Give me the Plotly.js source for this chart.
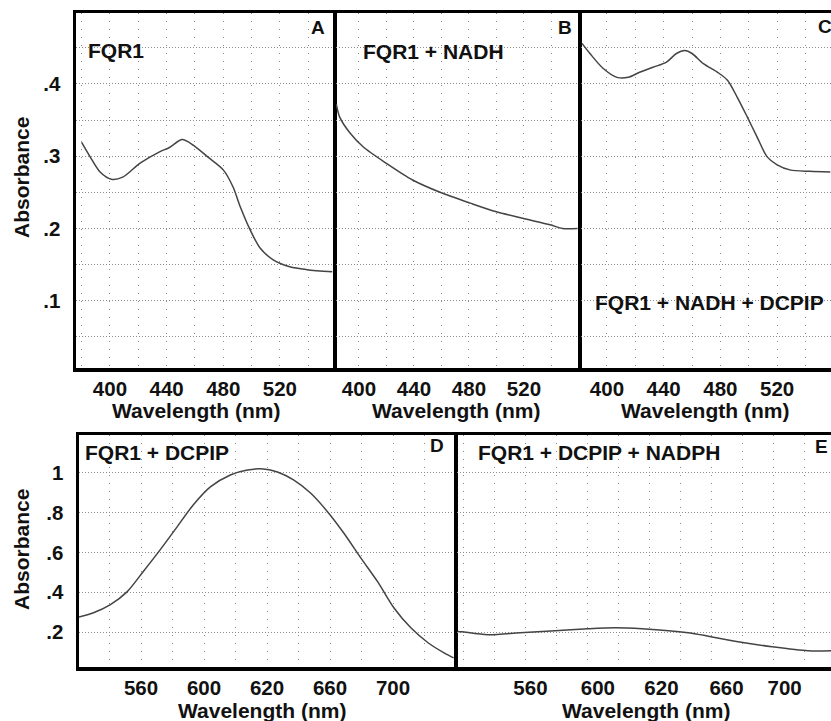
<!DOCTYPE html>
<html>
<head>
<meta charset="utf-8">
<script src="https://cdn.plot.ly/plotly-3.0.1.min.js"></script>
<style>html,body{margin:0;padding:0;background:#fff;}#chart{width:831px;height:721px;}</style>
</head>
<body>
<div id="chart"></div>
<script>
// ---- Data ----
// Panel A: FQR1
const A_wavelength = [380, 386, 393, 401, 409, 421, 435, 442, 451, 459, 469, 480, 487, 492, 499, 506, 515, 527, 539, 557];
const A_absorbance = [0.319, 0.299, 0.278, 0.268, 0.271, 0.290, 0.306, 0.312, 0.323, 0.315, 0.299, 0.281, 0.257, 0.230, 0.198, 0.173, 0.157, 0.147, 0.143, 0.140];
// Panel B: FQR1 + NADH
const B_wavelength = [383.5, 386, 393.5, 403, 420, 439, 459, 481, 500, 519, 539, 548, 559];
const B_absorbance = [0.372, 0.354, 0.332, 0.313, 0.290, 0.267, 0.250, 0.235, 0.223, 0.214, 0.205, 0.200, 0.200];
// Panel C: FQR1 + NADH + DCPIP
const C_wavelength = [382.4, 388, 397, 407, 415, 423, 432.5, 442, 449, 455, 460, 468, 478, 485, 492, 499, 506, 513, 520, 529, 543, 557.5];
const C_absorbance = [0.456, 0.442, 0.422, 0.409, 0.409, 0.416, 0.423, 0.430, 0.442, 0.446, 0.442, 0.428, 0.416, 0.405, 0.381, 0.354, 0.326, 0.299, 0.288, 0.281, 0.279, 0.278];
// Panel D: FQR1 + DCPIP
const D_wavelength = [520.6, 529.4, 540.3, 551.1, 561.3, 572.1, 582.9, 593.1, 604, 616.7, 627.5, 637.7, 646.6, 656.8, 667.6, 678.5, 688.7, 699.5, 710.3, 720.5, 731.3, 742.2, 752.4, 758.5];
const D_absorbance = [0.276, 0.296, 0.337, 0.402, 0.503, 0.613, 0.729, 0.839, 0.930, 0.990, 1.015, 1.020, 1.005, 0.965, 0.899, 0.804, 0.698, 0.573, 0.452, 0.322, 0.221, 0.146, 0.095, 0.070];
// Panel E: FQR1 + DCPIP + NADPH
const E_wavelength = [516.5, 519.4, 536, 556.8, 579.4, 600.6, 618, 635.5, 665.2, 697.4, 719.4, 742.6, 757.4];
const E_absorbance = [0.203, 0.201, 0.186, 0.196, 0.206, 0.216, 0.221, 0.216, 0.196, 0.151, 0.126, 0.106, 0.106];

// Tick labels
const topXTickVals = [400, 440, 480, 520];
const topXTickText = ["400", "440", "480", "520"];
const topYTickVals = [0.1, 0.2, 0.3, 0.4];
const topYTickText = [".1", ".2", ".3", ".4"];
const dXTickVals = [560, 600, 640, 680, 720];
const eXTickVals = [563.5, 607, 648, 690, 727.5];
const botXTickText = ["560", "600", "620", "660", "700"];
const botYTickVals = [0.2, 0.4, 0.6, 0.8, 1.0];
const botYTickText = [".2", ".4", ".6", ".8", "1"];

const panelNames = ["FQR1", "FQR1 + NADH", "FQR1 + NADH + DCPIP", "FQR1 + DCPIP", "FQR1 + DCPIP + NADPH"];
const panelLetters = ["A", "B", "C", "D", "E"];
const xTitle = "Wavelength (nm)";
const yTitle = "Absorbance";

// ---- Layout helpers ----
const W = 831, H = 721;
const fx = x => x / W;
const fy = y => 1 - y / H;
const FONT = "Liberation Sans, Arial, Helvetica, sans-serif";
const lineCol = "#444";
const gridCol = "#8c8c8c";
const TXT = "#111";

function trace(x, y, n) {
  return {x: x, y: y, xaxis: "x" + (n === 1 ? "" : n), yaxis: "y" + (n === 1 ? "" : n),
    type: "scatter", mode: "lines", line: {color: lineCol, width: 1.5, shape: "spline", smoothing: 0.8},
    hoverinfo: "skip", showlegend: false};
}

function xax(dom, anchor, range, tv, tt, majorGrid) {
  return {domain: dom, anchor: anchor, range: range, tickmode: "array", tickvals: tv, ticktext: tt,
    ticks: "", showline: true, linewidth: 3.5, linecolor: "#000", mirror: true, zeroline: false,
    showgrid: majorGrid, gridcolor: gridCol, gridwidth: 1, griddash: "1px,7px",
    minor: {tick0: 0, dtick: 20, showgrid: true, gridcolor: gridCol, gridwidth: 1, griddash: "1px,7px", ticks: ""},
    tickfont: {family: FONT, size: 20.5, color: TXT, weight: "bold"}, ticklabelstandoff: 0, fixedrange: true};
}
function yax(dom, anchor, range, tv, tt, showLabels, minorDtick) {
  const a = {domain: dom, anchor: anchor, range: range, tickmode: "array", tickvals: tv, ticktext: tt,
    ticks: "", showline: true, linewidth: 3.5, linecolor: "#000", mirror: true, zeroline: false,
    showgrid: true, gridcolor: gridCol, gridwidth: 1, griddash: "1px,2px", showticklabels: showLabels,
    tickfont: {family: FONT, size: 20.5, color: TXT, weight: "bold"}, ticklabelstandoff: 8, fixedrange: true};
  if (minorDtick) a.minor = {tick0: 0, dtick: minorDtick, showgrid: true, gridcolor: gridCol, gridwidth: 1, griddash: "1px,2px", ticks: ""};
  return a;
}

const topY = [fy(368), fy(13)];
const botY = [fy(667), fy(435)];
const topYRange = [0.007, 0.498];
const botYRange = [0.024, 1.191];

const data = [
  trace(A_wavelength, A_absorbance, 1),
  trace(B_wavelength, B_absorbance, 2),
  trace(C_wavelength, C_absorbance, 3),
  trace(D_wavelength, D_absorbance, 4),
  trace(E_wavelength, E_absorbance, 5)
];

function ann(text, x, y, opts) {
  return Object.assign({text: text, xref: "paper", yref: "paper", x: fx(x), y: fy(y), showarrow: false,
    xanchor: "left", yanchor: "middle", font: {family: FONT, size: 21, color: TXT, weight: "bold"}}, opts || {});
}
const letterFont = {family: FONT, size: 19, color: TXT, weight: "bold"};

const annotations = [
  ann(panelNames[0], 86, 51),
  ann(panelNames[1], 361, 52),
  ann(panelNames[2], 593, 302),
  ann(panelNames[3], 83, 452),
  ann(panelNames[4], 476, 452),
  ann(panelLetters[0], 318, 28, {xanchor: "center", font: letterFont}),
  ann(panelLetters[1], 565, 28, {xanchor: "center", font: letterFont}),
  ann(panelLetters[2], 825, 27, {xanchor: "center", font: letterFont}),
  ann(panelLetters[3], 437, 446, {xanchor: "center", font: letterFont}),
  ann(panelLetters[4], 821, 447, {xanchor: "center", font: letterFont}),
  ann(yTitle, 21, 178, {xanchor: "center", textangle: -90}),
  ann(yTitle, 21, 550, {xanchor: "center", textangle: -90}),
  ann(xTitle, 196, 410, {xanchor: "center"}),
  ann(xTitle, 456, 410, {xanchor: "center"}),
  ann(xTitle, 705, 410, {xanchor: "center"}),
  ann(xTitle, 262, 710, {xanchor: "center"}),
  ann(xTitle, 646, 710, {xanchor: "center"})
];

const layout = {
  width: W, height: H, margin: {l: 0, r: 0, t: 0, b: 0},
  paper_bgcolor: "#fff", plot_bgcolor: "#fff", showlegend: false,
  xaxis:  xax([fx(76), fx(333)], "y",  [376, 557.5], topXTickVals, topXTickText, true),
  yaxis:  yax(topY, "x",  topYRange, topYTickVals, topYTickText, true, 0.05),
  xaxis2: xax([fx(336), fx(578)], "y2", [383.3, 559.3], topXTickVals, topXTickText, true),
  yaxis2: yax(topY, "x2", topYRange, topYTickVals, topYTickText, false, 0.05),
  xaxis3: xax([fx(581), 1], "y3", [381.7, 558], topXTickVals, topXTickText, true),
  yaxis3: yax(topY, "x3", topYRange, topYTickVals, topYTickText, false, 0.05),
  xaxis4: xax([fx(79), fx(454)], "y4", [520.6, 758.7], dXTickVals, botXTickText, true),
  yaxis4: yax(botY, "x4", botYRange, botYTickVals, botYTickText, true, null),
  xaxis5: xax([fx(457), 1], "y5", [516.1, 757.4], eXTickVals, botXTickText, false),
  yaxis5: yax(botY, "x5", botYRange, botYTickVals, botYTickText, false, null),
  annotations: annotations
};

Plotly.newPlot("chart", data, layout, {staticPlot: true, displayModeBar: false});
</script>
</body>
</html>
